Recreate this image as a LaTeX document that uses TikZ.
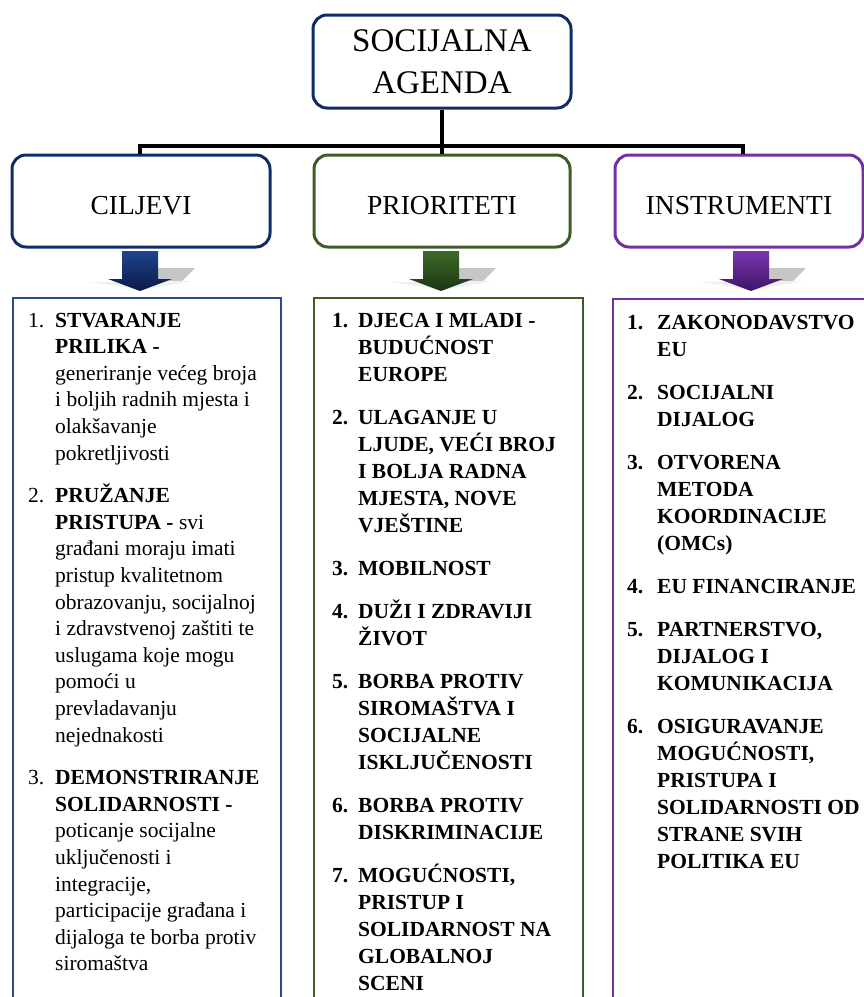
\documentclass[tikz,border=0pt]{standalone}
\usepackage{fontspec}
\setmainfont{Liberation Serif}
\usetikzlibrary{calc}
\definecolor{plava}{HTML}{102C66}
\definecolor{plavaokvir}{HTML}{2F4A8A}
\definecolor{zelena}{HTML}{3E5C27}
\definecolor{ljubicasta}{HTML}{7030A0}
\definecolor{plavaA}{HTML}{1E4490}
\definecolor{plavaB}{HTML}{0A1A45}
\definecolor{zelenaA}{HTML}{3E6B2A}
\definecolor{zelenaB}{HTML}{1D3312}
\definecolor{ljubA}{HTML}{7B35B0}
\definecolor{ljubB}{HTML}{3E1466}
% stavka popisa: sirina broja, broj, tekst
\newcommand{\stavka}[3]{\par\hangindent=#1\hangafter=1\noindent\makebox[#1][l]{#2}#3\par}
\tikzset{
  glava/.style={draw=plava, line width=3pt, rounded corners=14pt,
    minimum width=258pt, minimum height=93pt, align=center, inner sep=0pt,
    font=\fontsize{33}{42}\selectfont},
  naslov/.style={line width=3pt, rounded corners=14pt, minimum height=92pt,
    inner sep=0pt, text height=26pt, text depth=0pt,
    font=\fontsize{27.5}{33}\selectfont},
  veza/.style={line width=4pt, black, line join=miter},
  popis/.style={line width=2pt, minimum height=740pt, anchor=north west},
  tekst/.style={anchor=base west, inner sep=0pt}
}
\begin{document}
\begin{tikzpicture}[x=1pt, y=-1pt]
  \useasboundingbox (0,0) rectangle (864,997);
  \clip (0,0) rectangle (864,997);

  \node[glava] (agenda) at (442,61.5) {SOCIJALNA\\AGENDA};
  \node[naslov, draw=plava, minimum width=258pt] (cilj) at (141,201) {CILJEVI};
  \node[naslov, draw=zelena, minimum width=256pt] (prior) at (442,201) {PRIORITETI};
  \node[naslov, draw=ljubicasta, minimum width=248pt] (instr) at (739,201) {INSTRUMENTI};

  \coordinate (hub) at (442,146);
  \draw[veza] (agenda.south) -- (hub);
  \draw[veza] ([xshift=-1pt]cilj.north) |- (hub) -| ([xshift=4pt]instr.north);
  \draw[veza] (hub) -- (prior.north);

  \foreach \cx/\svj/\tam in {140/plavaA/plavaB, 441/zelenaA/zelenaB, 751/ljubA/ljubB}
  {
    \fill[gray!45] (\cx+18,268) -- (\cx+55,268) -- (\cx+40,283) -- (\cx+18,283) -- cycle;
    \fill[gray!12] (\cx-50,282) -- (\cx+52,281) -- (\cx+2,290) -- cycle;
    \shade[top color=\svj, bottom color=\tam]
      (\cx-18,251) -- (\cx+18,251) -- (\cx+18,279) -- (\cx+32,279)
      -- (\cx,291) -- (\cx-32,279) -- (\cx-18,279) -- cycle;
  }

  \node[popis, draw=plavaokvir, minimum width=268pt] (ciljbox) at (12,297) {};
  \node[popis, draw=zelena, minimum width=269pt] (priorbox) at (313,297) {};
  \node[popis, draw=ljubicasta, minimum width=270pt] (instrbox) at (612,298) {};

  \node[tekst] (ciljtekst) at (28,327) {\parbox[t]{300pt}{%
    \fontsize{21.5}{26.6}\selectfont\setlength{\parskip}{16pt}%
    \stavka{27pt}{1.}{\textbf{STVARANJE}\\\textbf{PRILIKA -}\\generiranje većeg broja\\i boljih radnih mjesta i\\olakšavanje\\pokretljivosti}
    \stavka{27pt}{2.}{\textbf{PRUŽANJE}\\\textbf{PRISTUPA -} svi\\građani moraju imati\\pristup kvalitetnom\\obrazovanju, socijalnoj\\i zdravstvenoj zaštiti te\\uslugama koje mogu\\pomoći u\\prevladavanju\\nejednakosti}
    \stavka{27pt}{3.}{\textbf{DEMONSTRIRANJE}\\\textbf{SOLIDARNOSTI -}\\poticanje socijalne\\uključenosti i\\integracije,\\participacije građana i\\dijaloga te borba protiv\\siromaštva}}};

  \node[tekst] (priortekst) at (332,327) {\parbox[t]{300pt}{%
    \fontsize{21.5}{27}\selectfont\bfseries\setlength{\parskip}{16pt}%
    \stavka{26pt}{1.}{DJECA I MLADI -\\BUDUĆNOST\\EUROPE}
    \stavka{26pt}{2.}{ULAGANJE U\\LJUDE, VEĆI BROJ\\I BOLJA RADNA\\MJESTA, NOVE\\VJEŠTINE}
    \stavka{26pt}{3.}{MOBILNOST}
    \stavka{26pt}{4.}{DUŽI I ZDRAVIJI\\ŽIVOT}
    \stavka{26pt}{5.}{BORBA PROTIV\\SIROMAŠTVA I\\SOCIJALNE\\ISKLJUČENOSTI}
    \stavka{26pt}{6.}{BORBA PROTIV\\DISKRIMINACIJE}
    \stavka{26pt}{7.}{MOGUĆNOSTI,\\PRISTUP I\\SOLIDARNOST NA\\GLOBALNOJ\\SCENI}}};

  \node[tekst] (instrtekst) at (627,329) {\parbox[t]{300pt}{%
    \fontsize{21.5}{27}\selectfont\bfseries\setlength{\parskip}{16pt}%
    \stavka{30pt}{1.}{ZAKONODAVSTVO\\EU}
    \stavka{30pt}{2.}{SOCIJALNI\\DIJALOG}
    \stavka{30pt}{3.}{OTVORENA\\METODA\\KOORDINACIJE\\(OMCs)}
    \stavka{30pt}{4.}{EU FINANCIRANJE}
    \stavka{30pt}{5.}{PARTNERSTVO,\\DIJALOG I\\KOMUNIKACIJA}
    \stavka{30pt}{6.}{OSIGURAVANJE\\MOGUĆNOSTI,\\PRISTUPA I\\SOLIDARNOSTI OD\\STRANE SVIH\\POLITIKA EU}}};
\end{tikzpicture}
\end{document}
